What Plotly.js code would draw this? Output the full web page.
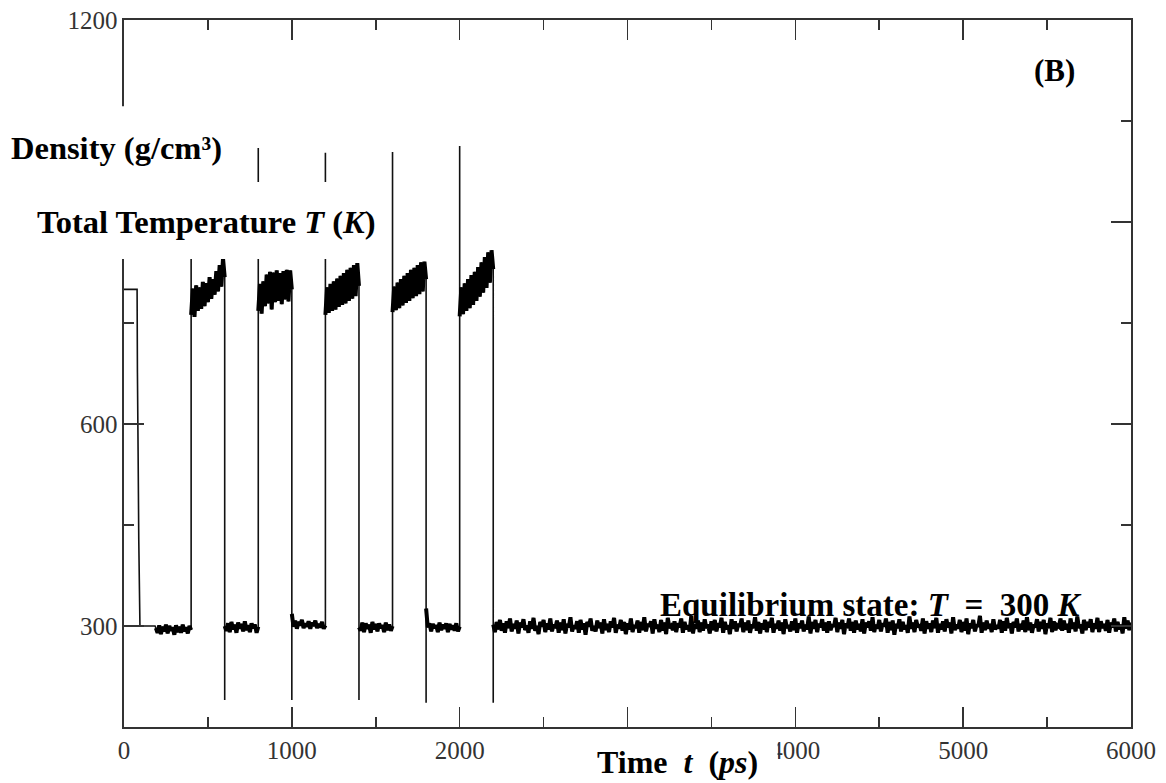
<!DOCTYPE html>
<html>
<head>
<meta charset="utf-8">
<script src="https://cdn.plot.ly/plotly-3.0.1.min.js"></script>
<style>html,body{margin:0;padding:0;background:#fff;}#chart{width:1166px;height:783px;}</style>
</head>
<body>
<div id="chart"></div>
<script>
// ---- Data (time in ps, temperature in K) ----
// initial ramp-down
const startTime = [0, 78, 80, 84, 88, 95, 185];
const startTemp = [800, 800, 676, 560, 428, 300, 300];

const sampleStep = 10; // ps between samples

// cooling (300 K) plateaus: start times and samples
const coolStart = [190, 600, 1000, 1400, 1800];
const cool0 = [297,290,301,288,299,292,302,289,300,293,298,287,301,291,299,290,302,292,298,289,300,294];
const cool1 = [300,293,304,291,306,295,302,290,305,296,303,292,307,294,301,291,304,297,302,290,299];
const cool2 = [318,299,308,296,306,301,309,297,304,299,307,296,305,300,308,297,303,298,306,296,301];
const cool3 = [298,293,305,291,304,296,302,290,306,295,303,292,304,297,301,291,305,294,302,293,300];
const cool4 = [326,298,304,292,303,297,301,291,305,294,302,296,304,291,303,295,301,293,304,292,299];

// heating plateaus
const heatStart = [400, 800, 1200, 1600, 2000];
const heat1 = [762,801,759,806,768,803,771,811,775,809,781,818,786,815,792,827,797,836,804,846,818];
const heat2 = [768,808,764,812,775,822,779,826,770,825,781,828,783,824,778,827,785,829,782,828,800];
const heat3 = [762,803,765,808,768,812,770,816,774,820,777,824,779,829,783,832,786,836,790,839,805];
const heat4 = [766,804,769,810,772,815,776,820,780,824,783,829,787,832,790,836,793,840,797,841,815];
const heat5 = [760,803,763,809,768,815,772,821,777,826,783,833,789,840,795,848,802,855,810,858,830];

// overshoot at start of each heating, undershoot at start of each cooling
const heatSpike = [1000, 1010, 1003, 1004, 1013];
const coolDip = [190, 190, 190, 186, 186];
const coolDipTime = [600, 1000, 1400, 1800, 2200];

// equilibrium run from 2200 ps to 6000 ps
const eqStart = 2200;
const eqTemp = [
302,291,306,295,309,293,304,290,307,297,311,292,303,296,308,289,305,298,310,294,
301,290,307,296,312,293,300,288,306,299,309,291,304,295,311,292,302,297,308,290,
305,294,310,289,303,298,313,292,301,296,307,290,309,295,304,287,306,299,311,293,
300,292,308,297,305,289,310,294,303,291,307,298,312,290,302,296,309,293,306,288,
304,295,311,291,301,297,308,290,306,294,313,292,303,299,307,289,310,296,302,291,
309,293,305,288,312,297,300,294,307,291,304,298,311,290,306,295,301,292,315,289,
303,296,308,291,305,293,310,297,302,289,307,294,309,292,304,298,312,290,306,295,
301,288,310,296,307,292,303,299,311,291,305,294,308,290,302,297,313,293,306,289,
304,295,309,291,306,298,312,290,303,296,308,293,305,288,310,297,301,292,307,294,
311,290,304,297,308,292,302,295,314,289,306,296,309,291,303,298,310,293,305,290,
307,294,302,299,312,291,305,296,309,288,304,297,311,293,306,290,308,295,303,292,
310,289,305,298,307,293,313,291,302,296,309,292,304,299,311,290,306,294,308,287,
303,297,310,292,306,295,301,290,314,296,305,291,309,298,302,293,311,289,307,296,
304,291,308,297,312,290,303,295,307,292,310,298,305,289,313,294,302,296,309,291,
306,293,311,288,304,297,309,292,302,299,315,290,305,294,308,296,303,291,310,295,
301,296,309,290,307,293,312,297,304,289,306,298,311,292,303,295,308,291,313,294,
305,290,302,298,310,292,306,296,309,288,304,297,312,291,307,294,301,299,311,293,
308,295,303,290,311,296,305,292,314,297,302,289,309,294,306,298,310,291,304,296,
312,291,307,297,303,293,309,290,305,298,311,292,306,295,302,289,313,296,308,294,
305];

const xTickVals = [0,1000,2000,3000,4000,5000,6000];
const xTickText = ['0','1000','2000','','4000','5000','6000'];
const yTickVals = [300,600,900,1200];
const yTickText = ['300','600','','1200'];

// ---- assemble traces ----
const X = [], Y = [];       // full path (thin line)
const NX = [], NY = [];     // noisy plateaus only (drawn thicker so they read as solid bands)
function pushSeg(t0, vals){
  vals.forEach((v,i)=>{ X.push(t0 + i*sampleStep); Y.push(v); NX.push(t0 + i*sampleStep); NY.push(v); });
  NX.push(null); NY.push(null);
}
startTime.forEach((t,i)=>{ X.push(t); Y.push(startTemp[i]); });
const cools = [cool0, cool1, cool2, cool3, cool4];
const heats = [heat1, heat2, heat3, heat4, heat5];
for (let k = 0; k < 5; k++) {
  pushSeg(coolStart[k], cools[k]);
  X.push(heatStart[k]); Y.push(heatSpike[k]);
  pushSeg(heatStart[k], heats[k]);
  X.push(coolDipTime[k]); Y.push(coolDip[k]);
}
pushSeg(eqStart, eqTemp);

const pathTrace = {
  x: X, y: Y, type: 'scatter', mode: 'lines',
  line: {color: '#111', width: 1.6, simplify: false},
  hoverinfo: 'skip', showlegend: false
};
const bandTrace = {
  x: NX, y: NY, type: 'scatter', mode: 'lines', connectgaps: false,
  line: {color: '#000', width: 4, simplify: false},
  hoverinfo: 'skip', showlegend: false
};

const axisCommon = {
  showline: true, linecolor: '#333', linewidth: 1.6, mirror: 'ticks',
  ticks: 'inside', ticklen: 20, tickwidth: 1.6, tickcolor: '#333',
  showgrid: false, zeroline: false, tickmode: 'array',
  tickfont: {family: 'Liberation Serif, Times New Roman, serif', size: 25, color: '#333'}
};

const layout = {
  width: 1166, height: 783,
  margin: {l: 124, r: 35, t: 20, b: 56},
  paper_bgcolor: '#fff', plot_bgcolor: '#fff',
  xaxis: Object.assign({}, axisCommon, {
    range: [0, 6000], tickvals: xTickVals, ticktext: xTickText,
    minor: {tickmode: 'linear', tick0: 0, dtick: 500, ticks: 'inside', ticklen: 10, tickwidth: 1.6, tickcolor: '#333'}
  }),
  yaxis: Object.assign({}, axisCommon, {
    range: [150, 1200], tickvals: yTickVals, ticktext: yTickText,
    minor: {tickmode: 'linear', tick0: 150, dtick: 150, ticks: 'inside', ticklen: 10, tickwidth: 1.6, tickcolor: '#333'}
  }),
  shapes: [
    {type: 'rect', xref: 'paper', yref: 'paper', x0: -0.128, x1: 0.110, y0: 0.771, y1: 0.878, fillcolor: '#fff', line: {width: 0}, layer: 'above'},
    {type: 'rect', xref: 'paper', yref: 'paper', x0: -0.113, x1: 0.259, y0: 0.662, y1: 0.771, fillcolor: '#fff', line: {width: 0}, layer: 'above'},
    {type: 'rect', xref: 'paper', yref: 'paper', x0: 0.458, x1: 0.649, y0: -0.079, y1: -0.0085, fillcolor: '#fff', line: {width: 0}, layer: 'above'}
  ],
  annotations: [
    {text: '<b>(B)</b>', x: 0.9245, y: 0.929, size: 31},
    {text: '<b>Density (g/cm\u00b3)</b>', x: -0.0079, y: 0.819, size: 32.5},
    {text: '<b>Total Temperature <i>T</i> (<i>K</i>)</b>', x: 0.0824, y: 0.714, size: 32.5},
    {text: '<b>Equilibrium state: <i>T</i>\u00a0\u00a0=\u00a0\u00a0300 <i>K</i></b>', x: 0.741, y: 0.173, size: 33},
    {text: '<b>Time\u00a0\u00a0<i>t</i>\u00a0\u00a0(<i>ps</i>)</b>', x: 0.550, y: -0.0495, size: 32}
  ].map(a => ({
    text: a.text, x: a.x, y: a.y,
    xref: 'paper', yref: 'paper', showarrow: false, xanchor: 'center', yanchor: 'middle',
    font: {family: 'Liberation Serif, Times New Roman, serif', size: a.size, color: '#000'}
  }))
};

Plotly.newPlot('chart', [pathTrace, bandTrace], layout, {displayModeBar: false, staticPlot: true})
  .then(() => {
    // drop empty placeholder text nodes (blank tick labels)
    document.querySelectorAll('#chart text, #chart tspan').forEach(t => { if (!t.textContent.replace(/\u200b/g, '').trim()) t.remove(); });
  });
</script>
</body>
</html>
